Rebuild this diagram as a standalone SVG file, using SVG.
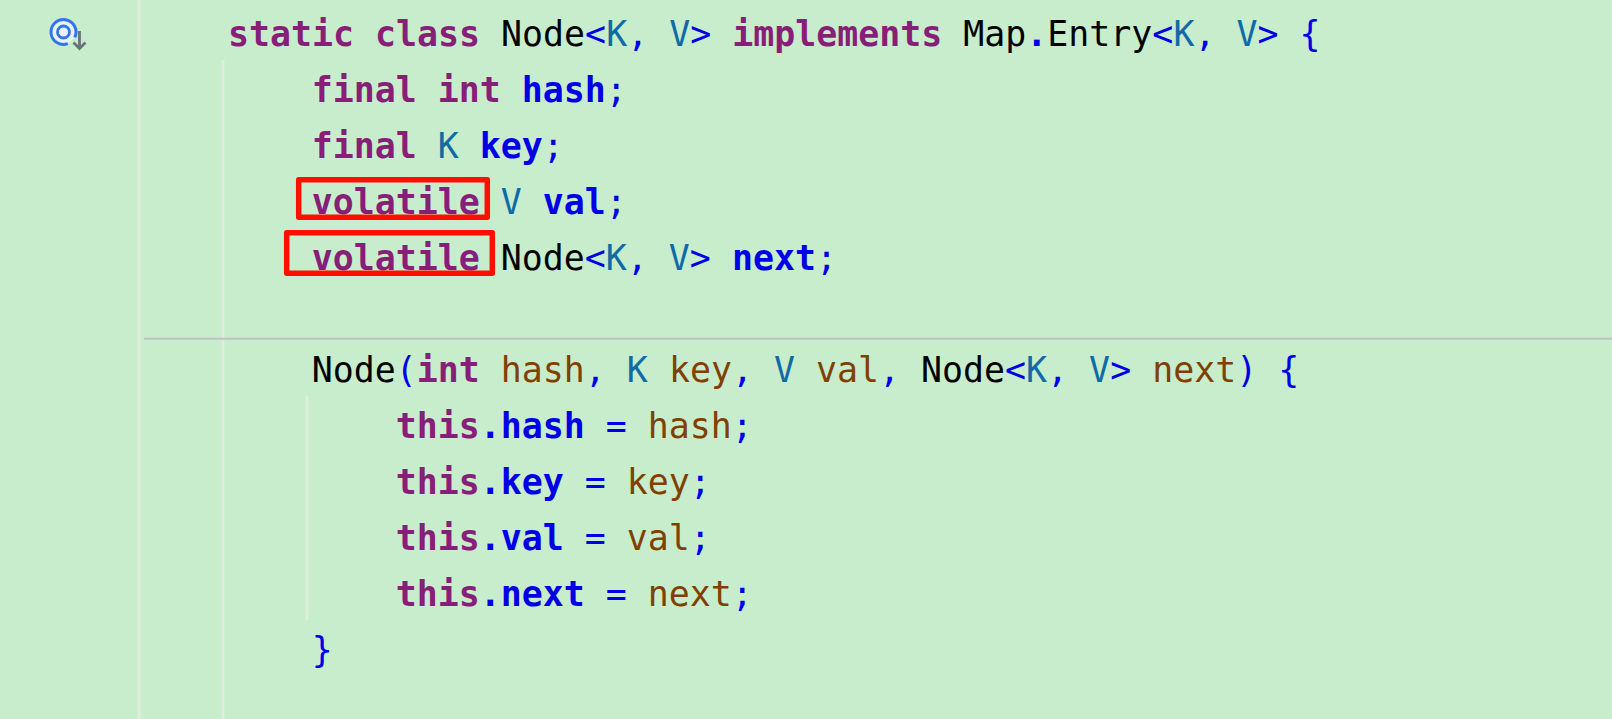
<svg xmlns="http://www.w3.org/2000/svg" width="1612" height="719" viewBox="0 0 1612 719">
<style>
text{font-family:"DejaVu Sans Mono","Liberation Mono",monospace;font-size:34.9px;white-space:pre;fill:#000}
.k{fill:#871F78;font-weight:bold}
.f{fill:#0000E6;font-weight:bold}
.t{fill:#0F6AA5}
.p{fill:#0000E6}
.a{fill:#7F4000}
.g{stroke:#E2EDE0;stroke-width:2.5;fill:none}
.r{fill:none;stroke:#FF0F00;stroke-width:5.5;stroke-linejoin:round}
</style>
<rect width="1612" height="719" fill="#C7EDCC"/>
<path class="g" d="M139 0V719M223 60V719M307 396V620"/>
<path d="M144 338.8H1612" stroke="#C4BFC4" stroke-width="2" fill="none"/>
<g id="icon">
<circle cx="63.500" cy="32" r="12" fill="#E6F3EE"/>
<path d="M74.800 37.300A12.500 12.500 0 1 0 67.800 43.700" fill="none" stroke="#3574F0" stroke-width="3"/>
<circle cx="63.500" cy="32" r="6" fill="#EDF3FF" stroke="#3574F0" stroke-width="2.800"/>
<path d="M79.500 31V48.500M73.500 42.500L79.500 48.500L85.500 42.500" fill="none" stroke="#6C707E" stroke-width="2.800"/>
</g>
<text x="228" y="45.700"><tspan class="k">static class</tspan> Node<tspan class="p">&lt;</tspan><tspan class="t">K</tspan><tspan class="p">,</tspan> <tspan class="t">V</tspan><tspan class="p">&gt;</tspan> <tspan class="k">implements</tspan> Map<tspan class="f">.</tspan>Entry<tspan class="p">&lt;</tspan><tspan class="t">K</tspan><tspan class="p">,</tspan> <tspan class="t">V</tspan><tspan class="p">&gt; {</tspan></text>
<text x="311.700" y="101.700"><tspan class="k">final int</tspan> <tspan class="f">hash</tspan><tspan class="p">;</tspan></text>
<text x="311.700" y="157.700"><tspan class="k">final</tspan> <tspan class="t">K</tspan> <tspan class="f">key</tspan><tspan class="p">;</tspan></text>
<text x="311.700" y="213.700"><tspan class="k">volatile</tspan> <tspan class="t">V</tspan> <tspan class="f">val</tspan><tspan class="p">;</tspan></text>
<text x="311.700" y="269.700"><tspan class="k">volatile</tspan> Node<tspan class="p">&lt;</tspan><tspan class="t">K</tspan><tspan class="p">,</tspan> <tspan class="t">V</tspan><tspan class="p">&gt;</tspan> <tspan class="f">next</tspan><tspan class="p">;</tspan></text>
<text x="311.700" y="381.700">Node<tspan class="p">(</tspan><tspan class="k">int</tspan> <tspan class="a">hash</tspan><tspan class="p">,</tspan> <tspan class="t">K</tspan> <tspan class="a">key</tspan><tspan class="p">,</tspan> <tspan class="t">V</tspan> <tspan class="a">val</tspan><tspan class="p">,</tspan> Node<tspan class="p">&lt;</tspan><tspan class="t">K</tspan><tspan class="p">,</tspan> <tspan class="t">V</tspan><tspan class="p">&gt;</tspan> <tspan class="a">next</tspan><tspan class="p">) {</tspan></text>
<text x="395.700" y="437.700"><tspan class="k">this</tspan><tspan class="f">.hash</tspan> <tspan class="p">=</tspan> <tspan class="a">hash</tspan><tspan class="p">;</tspan></text>
<text x="395.700" y="493.700"><tspan class="k">this</tspan><tspan class="f">.key</tspan> <tspan class="p">=</tspan> <tspan class="a">key</tspan><tspan class="p">;</tspan></text>
<text x="395.700" y="549.700"><tspan class="k">this</tspan><tspan class="f">.val</tspan> <tspan class="p">=</tspan> <tspan class="a">val</tspan><tspan class="p">;</tspan></text>
<text x="395.700" y="605.700"><tspan class="k">this</tspan><tspan class="f">.next</tspan> <tspan class="p">=</tspan> <tspan class="a">next</tspan><tspan class="p">;</tspan></text>
<text x="311.700" y="661.700" class="p">}</text>
<rect class="r" x="298.700" y="179.700" width="188.600" height="37.600"/>
<rect class="r" x="286.700" y="232.700" width="205.600" height="40.600"/>
</svg>
